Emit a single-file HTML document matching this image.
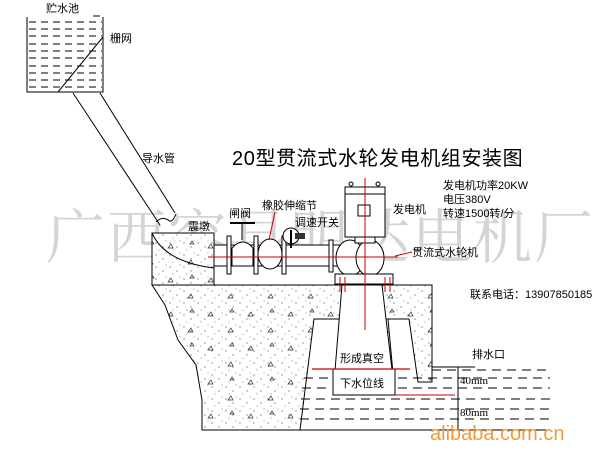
<!DOCTYPE html>
<html><head><meta charset="utf-8"><style>
html,body{margin:0;padding:0;background:#fff;}
svg{display:block;font-family:"Liberation Sans","Noto Sans CJK SC",sans-serif;}
</style></head><body>
<svg width="608" height="454" viewBox="0 0 608 454" xmlns="http://www.w3.org/2000/svg">
<defs>
<pattern id="conc" width="14" height="12" patternUnits="userSpaceOnUse">
<rect width="14" height="12" fill="#fff"/>
<circle cx="2" cy="3" r="0.6" fill="#555"/><circle cx="9" cy="7" r="0.6" fill="#555"/><circle cx="5" cy="10" r="0.5" fill="#666"/><circle cx="12" cy="1" r="0.5" fill="#666"/>
</pattern>
<pattern id="tri" width="40" height="34" patternUnits="userSpaceOnUse">
<path d="M8 10 l3 -4 l2 4 z M28 26 l3 -4 l2 4 z M30 6 l2 -3 l2 3z" fill="none" stroke="#333" stroke-width="0.7"/>
</pattern>
</defs>
<!-- watermark -->
<text x="46" y="258" font-size="59" fill="#d4d4d4" font-family="'Noto Serif CJK SC',serif" letter-spacing="2">广西容县明达电机厂</text>

<!-- tank -->
<text x="46" y="12" font-size="11">贮水池</text>
<polyline points="27,17 27,92 103,92 103,17" fill="none" stroke="#000"/>
<g stroke="#000" stroke-dasharray="7,5" stroke-width="1">
<line x1="29" y1="22" x2="102" y2="22"/><line x1="29" y1="29" x2="102" y2="29"/><line x1="29" y1="36" x2="102" y2="36"/><line x1="29" y1="44" x2="102" y2="44"/><line x1="29" y1="51" x2="102" y2="51"/><line x1="29" y1="58" x2="102" y2="58"/><line x1="29" y1="66" x2="102" y2="66"/><line x1="29" y1="73" x2="102" y2="73"/><line x1="29" y1="80" x2="102" y2="80"/><line x1="29" y1="87" x2="102" y2="87"/>
</g>
<line x1="93" y1="16" x2="100" y2="16" stroke="#000"/>
<line x1="58" y1="92" x2="103" y2="37" stroke="#000"/>
<text x="110" y="42" font-size="11">栅网</text>

<!-- penstock -->
<line x1="73" y1="93" x2="160" y2="225" stroke="#000"/>
<line x1="100" y1="93" x2="175" y2="213" stroke="#000"/>
<text x="142" y="162" font-size="11">导水管</text>
<path d="M156 222 q6 -6 12 -2 q4 4 8 -6" fill="none" stroke="#000"/>

<!-- title -->
<text x="232" y="165" font-size="20" letter-spacing="0.6">20型贯流式水轮发电机组安装图</text>
<text x="443" y="189" font-size="11">发电机功率20KW</text>
<text x="443" y="203" font-size="11">电压380V</text>
<text x="443" y="217" font-size="11">转速1500转/分</text>

<!-- concrete mass -->
<path d="M152 285 L432 285 L432 382 L418 382 L409 319 L388 319 L395 395 L333 395 L342 319 L314 319 L300 430 L202 430 L202 400 L196 365 L178 340 L165 305 Z" fill="url(#conc)" stroke="#000"/>
<path d="M152 285 L432 285 L432 382 L418 382 L409 319 L388 319 L395 395 L333 395 L342 319 L314 319 L300 430 L202 430 L202 400 L196 365 L178 340 L165 305 Z" fill="url(#tri)" stroke="none"/>
<!-- pier -->
<rect x="152" y="233" width="62" height="52" fill="url(#conc)" stroke="#000"/>
<rect x="152" y="233" width="62" height="52" fill="url(#tri)" stroke="none"/>
<path d="M152 233 Q165 262 214 268" fill="none" stroke="#000"/>
<text x="188" y="230" font-size="11">震墩</text>

<!-- draft pit interior (white) -->
<path d="M342 285 L382 285 L395 395 L333 395 Z" fill="#fff" stroke="#000"/>
<rect x="333" y="369" width="62" height="26" fill="#fff" stroke="#000"/>

<!-- water -->
<g stroke="#000" stroke-dasharray="9,6">
<line x1="304" y1="378" x2="330" y2="378"/><line x1="398" y1="378" x2="550" y2="378"/>
<line x1="302" y1="388" x2="330" y2="388"/><line x1="398" y1="388" x2="550" y2="388"/>
<line x1="301" y1="399" x2="550" y2="399"/>
<line x1="300" y1="409" x2="550" y2="409"/>
<line x1="300" y1="419" x2="550" y2="419"/>
<line x1="432" y1="370" x2="550" y2="370"/>
</g>
<line x1="300" y1="430" x2="546" y2="430" stroke="#000"/>
<line x1="432" y1="367" x2="475" y2="367" stroke="#000"/>
<text x="472" y="358" font-size="11">排水口</text>
<line x1="458" y1="367" x2="458" y2="430" stroke="#000"/>
<text x="460" y="384" font-size="11" font-family="'Liberation Serif',serif">40mm</text>
<text x="460" y="416" font-size="11" font-family="'Liberation Serif',serif">80mm</text>
<text x="340" y="362" font-size="11">形成真空</text>
<text x="340" y="387" font-size="11">下水位线</text>
<line x1="312" y1="369" x2="410" y2="369" stroke="#c00" stroke-width="1.2"/>
<line x1="395" y1="395" x2="455" y2="395" stroke="#c00" stroke-width="1"/>
<line x1="365" y1="285" x2="365" y2="330" stroke="#c00"/>

<!-- pipe -->
<rect x="214" y="245" width="126" height="21" fill="#fff" stroke="#000"/>
<g fill="#fff" stroke="#000">
<rect x="227" y="236" width="4" height="38"/>
<rect x="254" y="236" width="4" height="38"/>
<rect x="282" y="236" width="4" height="38"/>
<rect x="329" y="240" width="4" height="32"/>
<path d="M232 266 L232 248 Q243 236 253 248 L253 266Z"/>
<ellipse cx="270" cy="254" rx="12" ry="15"/>
</g>
<line x1="242" y1="224" x2="242" y2="240" stroke="#000"/>
<rect x="230" y="222" width="25" height="2" fill="#000"/>
<text x="229" y="217" font-size="11">闸阀</text>
<text x="262" y="209" font-size="11">橡胶伸缩节</text>
<line x1="275" y1="212" x2="269" y2="240" stroke="#c00"/>
<circle cx="291" cy="236" r="8" fill="#fff" stroke="#000"/>
<line x1="291" y1="230" x2="291" y2="248" stroke="#000" stroke-width="2"/>
<rect x="295" y="233" width="10" height="6" fill="#333"/>
<text x="295" y="226" font-size="11">调速开关</text>

<!-- turbine -->
<ellipse cx="350" cy="258" rx="14" ry="18" fill="#fff" stroke="#000"/>
<ellipse cx="370" cy="258" rx="14" ry="18" fill="#fff" stroke="#000"/>
<rect x="335" y="274" width="58" height="10" fill="#fff" stroke="#000"/>
<g stroke="#c00"><line x1="340" y1="277" x2="340" y2="292"/><line x1="345" y1="277" x2="345" y2="292"/><line x1="385" y1="277" x2="385" y2="292"/><line x1="390" y1="277" x2="390" y2="292"/></g>
<!-- generator -->
<rect x="345" y="187" width="40" height="50" fill="#fff" stroke="#000"/>
<line x1="345" y1="194" x2="385" y2="194" stroke="#000"/>
<rect x="358" y="205" width="12" height="11" fill="none" stroke="#000"/>
<circle cx="351" cy="184" r="2" fill="none" stroke="#000"/><circle cx="378" cy="184" r="2" fill="none" stroke="#000"/>
<rect x="355" y="237" width="20" height="6" fill="#fff" stroke="#000"/>
<text x="393" y="213" font-size="11">发电机</text>
<text x="412" y="256" font-size="11">贯流式水轮机</text>
<line x1="395" y1="256" x2="412" y2="252" stroke="#c00"/>
<line x1="365" y1="178" x2="365" y2="285" stroke="#c00"/>
<line x1="208" y1="257" x2="398" y2="257" stroke="#c00"/>

<text x="470" y="298" font-size="11">联系电话：13907850185</text>
<text x="430" y="440" font-size="20" fill="#f59a3a">alibaba.com.cn</text>
</svg>
</body></html>
